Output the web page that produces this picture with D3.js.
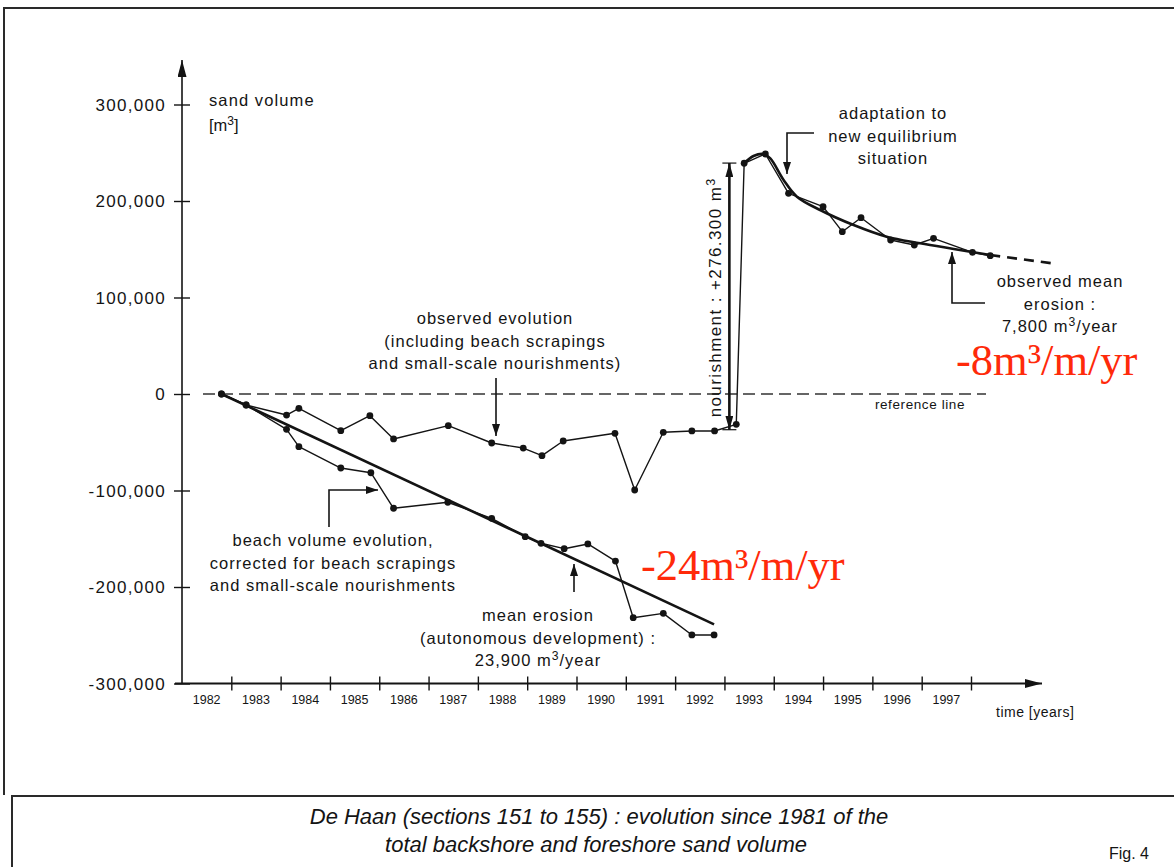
<!DOCTYPE html>
<html>
<head>
<meta charset="utf-8">
<script src="https://cdn.jsdelivr.net/npm/d3@7"></script>
<style>
  html, body { margin: 0; padding: 0; background: #fff; }
  svg { display: block; }
  .lbl { font-family: "Liberation Sans", Arial, Helvetica, sans-serif; fill: #141414; }
</style>
</head>
<body>
<svg id="chart" width="1174" height="867"></svg>
<script>
// Sand volume survey data (years as decimal dates, volumes in m3)
const observedYears  = [1982.80, 1983.30, 1984.12, 1984.37, 1985.22, 1985.81, 1986.29, 1987.40, 1988.28, 1988.92, 1989.30, 1989.73, 1990.78, 1991.18, 1991.76, 1992.34, 1992.80, 1993.24, 1993.40, 1993.83, 1994.30, 1995.00, 1995.39, 1995.77, 1996.37, 1996.85, 1997.24, 1998.03, 1998.39];
const observedValues = [0, -11400, -21800, -14800, -38000, -22500, -46600, -32800, -50800, -56000, -63900, -48700, -40700, -99500, -39700, -38300, -38300, -31400, 239100, 248700, 208000, 194100, 168200, 182700, 159600, 154400, 161300, 146800, 143300];

const correctedYears  = [1982.80, 1983.30, 1984.12, 1984.37, 1985.22, 1985.83, 1986.29, 1987.39, 1988.28, 1988.96, 1989.28, 1989.75, 1990.23, 1990.79, 1991.15, 1991.76, 1992.34, 1992.79];
const correctedValues = [0, -11400, -36600, -54600, -76700, -81600, -118400, -112200, -128800, -147900, -154700, -160300, -155400, -173100, -231800, -227300, -249700, -249700];

// Smoothed post-nourishment trend
const fitYears  = [1993.40, 1993.59, 1993.79, 1993.93, 1994.20, 1994.47, 1994.94, 1995.62, 1996.29, 1996.97, 1997.65, 1998.39];
const fitValues = [239100, 246600, 248700, 244200, 221800, 204500, 190700, 175100, 163000, 156200, 150300, 144000];
const fitExtensionYears  = [1998.39, 1999.75];
const fitExtensionValues = [144000, 134700];

// Linear mean erosion before nourishment
const meanErosionRate = 23900;          // m3/year
const meanErosionStart = 1982.80;
const meanErosionEnd = 1992.79;

// Nourishment
const nourishmentYear = 1993.10;
const nourishmentBase = -37000;
const nourishmentVolume = 276300;

const yTicks = [300000, 200000, 100000, 0, -100000, -200000, -300000];
const yearLabels = [1982, 1983, 1984, 1985, 1986, 1987, 1988, 1989, 1990, 1991, 1992, 1993, 1994, 1995, 1996, 1997];

const svg = d3.select("#chart");
const ink = "#141414";
const fs = 16.5;   // annotation font size

const x = d3.scaleLinear().domain([1982, 1998]).range([182, 971]);
const y = d3.scaleLinear().domain([-300000, 300000]).range([683.5, 104.5]);

// Page frame
svg.append("path")
  .attr("d", "M4,795 L4,8 L1174,8")
  .attr("fill", "none").attr("stroke", "#2a2a2a").attr("stroke-width", 2);
svg.append("path")
  .attr("d", "M12,867 L12,796 L1174,796")
  .attr("fill", "none").attr("stroke", "#2a2a2a").attr("stroke-width", 2);

// Arrowhead markers
const defs = svg.append("defs");
function marker(id, len, wid) {
  defs.append("marker")
    .attr("id", id).attr("viewBox", `0 0 ${len} ${wid}`)
    .attr("refX", len).attr("refY", wid / 2)
    .attr("markerWidth", len).attr("markerHeight", wid)
    .attr("markerUnits", "userSpaceOnUse")
    .attr("orient", "auto-start-reverse")
    .append("path").attr("d", `M0,0 L${len},${wid / 2} L0,${wid} Z`).attr("fill", ink);
}
marker("ax", 17, 9);
marker("ann", 12, 8);
marker("nour", 14, 8);

// Y axis
const yAxis = svg.append("g").attr("transform", `translate(${x(1982)},0)`)
  .call(d3.axisLeft(y).tickValues(yTicks).tickSize(0)
    .tickFormat(d => d3.format(",")(d).replace("\u2212", "-")));
yAxis.select(".domain").remove();
yAxis.selectAll(".tick line").attr("x1", -8).attr("x2", 8).attr("stroke", ink).attr("stroke-width", 1.4);
yAxis.selectAll(".tick text")
  .attr("x", -16).attr("dy", "0.35em")
  .attr("class", "lbl").style("font-size", "17px").style("letter-spacing", "1.3px")
  .attr("font-family", null).attr("fill", ink);
svg.append("line")
  .attr("x1", x(1982)).attr("x2", x(1982))
  .attr("y1", y(-300000)).attr("y2", 60)
  .attr("stroke", ink).attr("stroke-width", 1.6).attr("marker-end", "url(#ax)");

// X axis: ticks mark year boundaries, labels sit mid-year
const boundaries = d3.range(1983, 1999);
const xAxis = svg.append("g").attr("transform", `translate(0,${y(-300000)})`)
  .call(d3.axisBottom(x).tickValues(boundaries).tickSize(0).tickFormat(""));
xAxis.select(".domain").remove();
xAxis.selectAll(".tick line").attr("y1", -7).attr("y2", 7).attr("stroke", ink).attr("stroke-width", 1.4);
svg.append("line")
  .attr("x1", 175).attr("x2", 1042)
  .attr("y1", y(-300000)).attr("y2", y(-300000))
  .attr("stroke", ink).attr("stroke-width", 1.8).attr("marker-end", "url(#ax)");
svg.append("g").selectAll("text").data(yearLabels).join("text")
  .attr("class", "lbl")
  .attr("x", d => x(d + 0.5)).attr("y", 704)
  .attr("text-anchor", "middle")
  .style("font-size", "12.5px")
  .text(d => d);

// Axis titles
const sv = svg.append("text").attr("class", "lbl").style("font-size", fs + "px").style("letter-spacing", "1.1px");
sv.append("tspan").attr("x", 209).attr("y", 106).text("sand volume");
const m3 = svg.append("text").attr("class", "lbl").style("font-size", fs + "px").attr("x", 209).attr("y", 131);
m3.append("tspan").text("[m");
m3.append("tspan").attr("dy", -6).style("font-size", "12px").text("3");
m3.append("tspan").attr("dy", 6).text("]");
svg.append("text").attr("class", "lbl").attr("x", 996).attr("y", 717)
  .style("font-size", "14px").style("letter-spacing", "0.5px").text("time [years]");

// Reference line
svg.append("line")
  .attr("x1", 203).attr("x2", 986).attr("y1", y(0)).attr("y2", y(0))
  .attr("stroke", "#333").attr("stroke-width", 1.3).attr("stroke-dasharray", "12,6");
svg.append("text").attr("class", "lbl").attr("x", 920).attr("y", 409)
  .attr("text-anchor", "middle").style("font-size", "13.5px").style("letter-spacing", "0.6px")
  .text("reference line");

const line = d3.line().x(d => x(d[0])).y(d => y(d[1]));
const observed = observedYears.map((t, i) => [t, observedValues[i]]);
const corrected = correctedYears.map((t, i) => [t, correctedValues[i]]);
const fit = fitYears.map((t, i) => [t, fitValues[i]]);
const fitExt = fitExtensionYears.map((t, i) => [t, fitExtensionValues[i]]);

// Mean erosion trend
const meanLine = [[meanErosionStart, 0], [meanErosionEnd, -meanErosionRate * (meanErosionEnd - meanErosionStart)]];
svg.append("path").attr("d", line(meanLine))
  .attr("fill", "none").attr("stroke", ink).attr("stroke-width", 2.6);

// Smoothed trend after nourishment
svg.append("path").attr("d", d3.line().x(d => x(d[0])).y(d => y(d[1])).curve(d3.curveCatmullRom.alpha(0.5))(fit))
  .attr("fill", "none").attr("stroke", ink).attr("stroke-width", 2.6);
svg.append("path").attr("d", line(fitExt))
  .attr("fill", "none").attr("stroke", ink).attr("stroke-width", 2.6).attr("stroke-dasharray", "10,7");

// Series
[observed, corrected].forEach(series => {
  svg.append("path").attr("d", line(series))
    .attr("fill", "none").attr("stroke", ink).attr("stroke-width", 1.4).attr("stroke-linejoin", "round");
  svg.append("g").selectAll("circle").data(series).join("circle")
    .attr("cx", d => x(d[0])).attr("cy", d => y(d[1])).attr("r", 3.4).attr("fill", ink);
});

// Nourishment double arrow with end caps
const nx = x(nourishmentYear);
const ny0 = y(nourishmentBase), ny1 = y(nourishmentBase + nourishmentVolume);
svg.append("line").attr("x1", nx).attr("x2", nx).attr("y1", ny0).attr("y2", ny1)
  .attr("stroke", ink).attr("stroke-width", 2.6)
  .attr("marker-start", "url(#nour)").attr("marker-end", "url(#nour)");
[ny0, ny1].forEach(v => svg.append("line").attr("x1", nx - 7).attr("x2", nx + 7).attr("y1", v).attr("y2", v)
  .attr("stroke", ink).attr("stroke-width", 1.2));
const nt = svg.append("text").attr("class", "lbl")
  .attr("transform", `translate(715,${(ny0 + ny1) / 2 + 1}) rotate(-90)`)
  .attr("text-anchor", "middle").attr("dy", "0.35em")
  .style("font-size", "17px").style("letter-spacing", "1.4px");
nt.append("tspan").text("nourishment :  +276.300 m");
nt.append("tspan").attr("dy", -6).style("font-size", "12.5px").text("3");

// Annotation helpers
function block(cx, y0, lines, size) {
  const g = svg.append("g");
  lines.forEach((ln, i) => {
    const t = g.append("text").attr("class", "lbl").attr("x", cx).attr("y", y0 + i * 22.5)
      .attr("text-anchor", "middle").style("font-size", size + "px").style("letter-spacing", "1px");
    if (Array.isArray(ln)) {
      t.append("tspan").text(ln[0]);
      t.append("tspan").attr("dy", -6).style("font-size", (size * 0.74) + "px").text("3");
      t.append("tspan").attr("dy", 6).text(ln[1]);
    } else t.text(ln);
  });
}
function arrow(points) {
  svg.append("path").attr("d", d3.line()(points))
    .attr("fill", "none").attr("stroke", ink).attr("stroke-width", 1.6).attr("marker-end", "url(#ann)");
}

block(495, 324, ["observed evolution", "(including beach scrapings", "and small-scale nourishments)"], fs);
arrow([[496, 378], [496, 436]]);

block(333, 546, ["beach volume evolution,", "corrected for beach scrapings", "and small-scale nourishments"], fs);
arrow([[329, 527], [329, 490], [378, 490]]);

block(538, 621, ["mean erosion", "(autonomous development) :", ["23,900 m", "/year"]], fs);
arrow([[574, 592], [574, 564]]);

block(893, 119, ["adaptation to", "new equilibrium", "situation"], fs);
arrow([[814, 133], [787, 133], [787, 174]]);

block(1060, 287, ["observed mean", "erosion :", ["7,800 m", "/year"]], fs);
arrow([[985, 303], [952, 303], [952, 252]]);

// Rates per metre of coastline
svg.append("text").attr("x", 956).attr("y", 375)
  .style("font-family", "'Liberation Serif', 'Times New Roman', serif").style("font-size", "44.5px")
  .attr("fill", "#ff2a0a").text("-8m\u00b3/m/yr");
svg.append("text").attr("x", 641).attr("y", 580)
  .style("font-family", "'Liberation Serif', 'Times New Roman', serif").style("font-size", "44.5px")
  .attr("fill", "#ff2a0a").text("-24m\u00b3/m/yr");

// Caption
svg.append("text").attr("class", "lbl").attr("x", 599).attr("y", 824).attr("text-anchor", "middle")
  .style("font-size", "22px").style("font-style", "italic")
  .text("De Haan (sections 151 to 155) :  evolution since 1981 of the");
svg.append("text").attr("class", "lbl").attr("x", 596).attr("y", 852).attr("text-anchor", "middle")
  .style("font-size", "22px").style("font-style", "italic")
  .text("total backshore and foreshore sand volume");
svg.append("text").attr("class", "lbl").attr("x", 1109).attr("y", 859)
  .style("font-size", "16px").text("Fig. 4");
</script>
</body>
</html>
